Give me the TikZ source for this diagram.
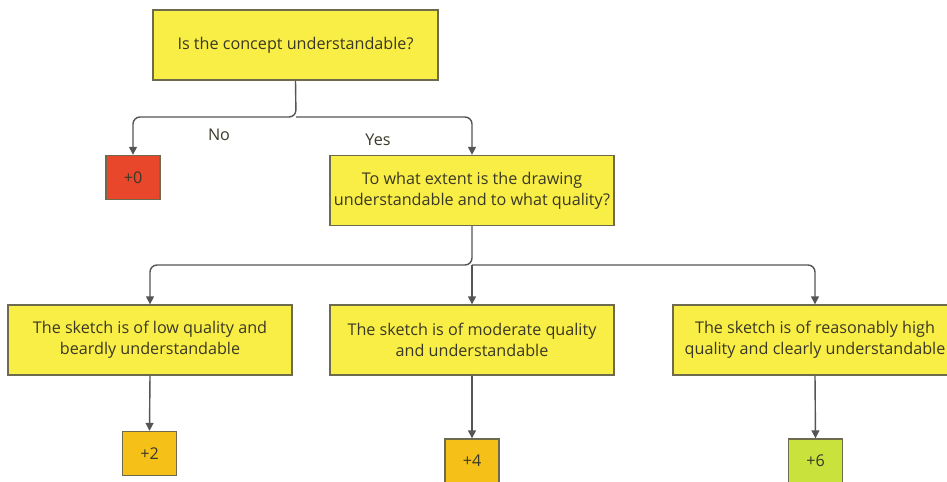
\documentclass[tikz,border=0pt]{standalone}
\usepackage{fontspec}
\setmainfont{Open Sans}
\usetikzlibrary{arrows.meta}
\definecolor{boxyellow}{HTML}{F9EE45}
\definecolor{boxline}{HTML}{6E6A4E}
\definecolor{txt}{HTML}{3A3826}
\definecolor{zerored}{HTML}{E8472B}
\definecolor{scoreorange}{HTML}{F5C118}
\definecolor{scorelime}{HTML}{C9E33C}
\definecolor{wire}{HTML}{555555}
\tikzset{
  qbox/.style={draw=boxline, line width=0.8pt, fill=boxyellow, text=txt, align=center,
    minimum width=5.68cm, minimum height=1.4cm, inner sep=0pt,
    font=\fontsize{9.2}{12}\selectfont},
  score/.style={draw=boxline, line width=0.8pt, text=txt, align=center,
    minimum width=1.08cm, minimum height=0.88cm, inner sep=0pt,
    font=\fontsize{9.2}{12}\selectfont},
  arr/.style={draw=wire, line width=0.8pt, rounded corners=4pt, -{Triangle[length=4.5pt,width=4.5pt]}},
  lbl/.style={text=txt, font=\fontsize{9.2}{12}\selectfont, inner sep=0pt}
}
\begin{document}
\begin{tikzpicture}[x=0.02cm,y=-0.02cm]
\useasboundingbox (0,0) rectangle (947,481);
\node[qbox, minimum width=5.7cm] (top) at (295.5,45) {Is the concept understandable?};
\node[score, fill=zerored] (zero) at (133,177.5) {+0};
\node[qbox] (mid) at (472,190.5) {To what extent is the drawing\\understandable and to what quality?};
\node[qbox] (low) at (150,340) {The sketch is of low quality and\\beardly understandable};
\node[qbox] (mod) at (472,340) {The sketch is of moderate quality\\and understandable};
\node[qbox] (high) at (815,340) {The sketch is of reasonably high\\quality and clearly understandable};
\node[score, fill=scoreorange] (two) at (149.5,453.5) {+2};
\node[score, fill=scoreorange] (four) at (472,461) {+4};
\node[score, fill=scorelime] (six) at (815.5,461) {+6};
\coordinate (j1) at (296,117);
\coordinate (j2) at (472,265);
\draw[arr] (top.south) -- (j1) -| (zero.north);
\draw[arr] (j1) -| (mid.north);
\draw[arr] (mid.south) -- (j2) -| (low.north);
\draw[arr] (j2) -- (mod.north);
\draw[arr] (j2) -| (high.north);
\draw[arr] (low.south) -- (two.north);
\draw[arr] (mod.south) -- (four.north);
\draw[arr] (high.south) -- (six.north);
\node[lbl] (no) at (219,135) {No};
\node[lbl] (yes) at (378,140) {Yes};
\end{tikzpicture}
\end{document}
